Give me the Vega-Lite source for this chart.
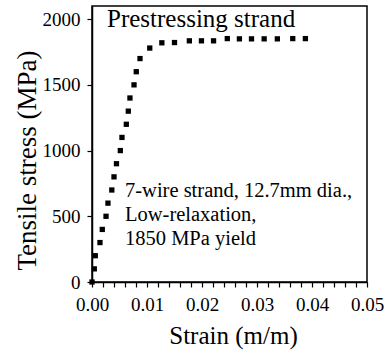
{
  "$schema": "https://vega.github.io/schema/vega-lite/v6.json",
  "autosize": {"type": "none"},
  "width": 275,
  "height": 276,
  "padding": {"left": 92, "top": 6, "right": 22, "bottom": 72},
  "background": "white",
  "config": {
    "font": "Liberation Serif",
    "text": {"font": "Liberation Serif"},
    "view": {"stroke": "black", "strokeWidth": 1.5},
    "axis": {"grid": false, "domainColor": "black", "tickColor": "black", "labelColor": "black", "titleColor": "black", "labelFont": "Liberation Serif", "titleFont": "Liberation Serif", "titleFontWeight": "normal", "domainWidth": 1.5, "tickWidth": 1.2}
  },
  "resolve": {"axis": {"x": "independent"}},
  "layer": [
    {
      "data": {
        "values": [
          {"strain": 0.0, "stress": 0},
          {"strain": 0.00042, "stress": 100},
          {"strain": 0.0006, "stress": 200},
          {"strain": 0.00145, "stress": 300},
          {"strain": 0.00187, "stress": 400},
          {"strain": 0.00255, "stress": 500},
          {"strain": 0.0029, "stress": 600},
          {"strain": 0.0036, "stress": 700},
          {"strain": 0.004, "stress": 800},
          {"strain": 0.00445, "stress": 900},
          {"strain": 0.00515, "stress": 1000},
          {"strain": 0.00545, "stress": 1100},
          {"strain": 0.00624, "stress": 1200},
          {"strain": 0.0066, "stress": 1300},
          {"strain": 0.0069, "stress": 1400},
          {"strain": 0.00764, "stress": 1500},
          {"strain": 0.00805, "stress": 1600},
          {"strain": 0.00873, "stress": 1700},
          {"strain": 0.0105, "stress": 1780},
          {"strain": 0.0127, "stress": 1820},
          {"strain": 0.015, "stress": 1822},
          {"strain": 0.0177, "stress": 1835},
          {"strain": 0.0199, "stress": 1835},
          {"strain": 0.0221, "stress": 1835},
          {"strain": 0.0246, "stress": 1852},
          {"strain": 0.0268, "stress": 1850},
          {"strain": 0.029, "stress": 1850},
          {"strain": 0.0313, "stress": 1850},
          {"strain": 0.0337, "stress": 1850},
          {"strain": 0.0365, "stress": 1852},
          {"strain": 0.0388, "stress": 1852}
        ]
      },
      "mark": {"type": "point", "shape": "square", "filled": true, "size": 28, "color": "black", "opacity": 1},
      "encoding": {
        "x": {
          "field": "strain", "type": "quantitative",
          "scale": {"domain": [0, 0.05], "nice": false, "zero": false},
          "axis": {
            "orient": "bottom",
            "title": "Strain (m/m)",
            "values": [0, 0.01, 0.02, 0.03, 0.04, 0.05],
            "format": ".2f",
            "labelFontSize": 19, "labelPadding": 8, "tickSize": 5, "labelBaseline": "top",
            "labelOverlap": false, "labelFlush": false,
            "titleFontSize": 25, "titleX": 141, "titleY": 53, "titleBaseline": "middle", "titleAnchor": "middle", "titleAlign": "center"
          }
        },
        "y": {
          "field": "stress", "type": "quantitative",
          "scale": {"domain": [0, 2100], "nice": false},
          "axis": {
            "title": "Tensile stress (MPa)",
            "values": [0, 500, 1000, 1500, 2000],
            "format": "d",
            "labelFontSize": 19, "labelPadding": 7, "tickSize": 5,
            "titleFontSize": 27, "titleAngle": -90, "titleX": -65, "titleY": 154, "titleBaseline": "middle", "titleAlign": "center", "titleAnchor": "middle"
          }
        }
      }
    },
    {
      "data": {"values": [{}]},
      "mark": {"type": "text", "text": "Prestressing strand", "fontSize": 25, "align": "left", "baseline": "alphabetic", "fill": "black"},
      "encoding": {
        "x": {
          "datum": 0.00273, "type": "quantitative",
          "axis": {
            "orient": "bottom", "title": null, "labels": false, "domain": false,
            "values": [0.002, 0.004, 0.006, 0.008, 0.012, 0.014, 0.016, 0.018, 0.022, 0.024, 0.026, 0.028, 0.032, 0.034, 0.036, 0.038, 0.042, 0.044, 0.046, 0.048],
            "tickSize": 5
          }
        },
        "y": {"datum": 1938, "type": "quantitative"}
      }
    },
    {
      "data": {"values": [{}]},
      "mark": {"type": "text", "text": ["7-wire strand, 12.7mm dia.,", "Low-relaxation,", "1850 MPa yield"], "fontSize": 20.5, "lineHeight": 24, "align": "left", "baseline": "alphabetic", "fill": "black"},
      "encoding": {
        "x": {"datum": 0.006, "type": "quantitative", "axis": null},
        "y": {"datum": 649, "type": "quantitative"}
      }
    }
  ]
}
